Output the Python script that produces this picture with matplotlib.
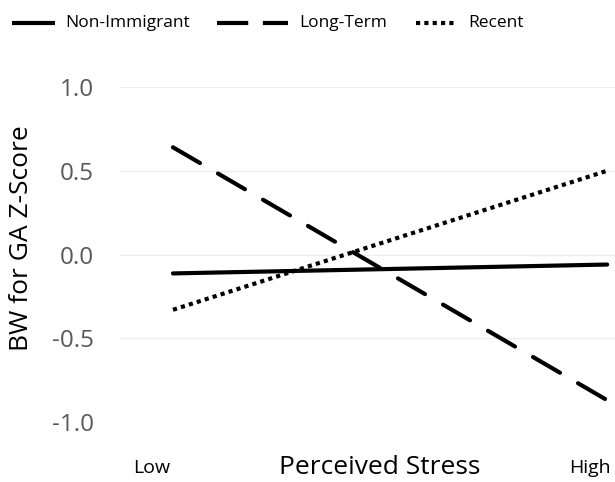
import matplotlib
matplotlib.use("Agg")
import matplotlib.pyplot as plt
from matplotlib.lines import Line2D

plt.rcParams['font.family'] = ['Open Sans', 'DejaVu Sans']

x_labels = ["Low", "High"]
x_pos = [0, 1]
non_immigrant = [-0.113, -0.06]
long_term = [0.64, -0.87]
recent = [-0.33, 0.50]
series_names = ["Non-Immigrant", "Long-Term", "Recent"]
y_ticks = [-1.0, -0.5, 0.0, 0.5, 1.0]

W, H = 615, 482
fig = plt.figure(figsize=(W / 100, H / 100), dpi=100)
ax = fig.add_axes([120 / W, (H - 422) / H, (615 - 120) / W, (422 - 87) / H])

lw = 3.0
dash_lt = (7.5, 5)
dot_rc = (1, 1)
l1, = ax.plot(x_pos, non_immigrant, color='black', lw=lw, solid_capstyle='round')
l2, = ax.plot(x_pos, long_term, color='black', lw=lw, dashes=dash_lt, dash_capstyle='round')
l3, = ax.plot(x_pos, recent, color='black', lw=lw, dashes=dot_rc, dash_capstyle='butt')
for l in (l1, l2, l3):
    l.set_clip_on(False)

ax.set_xlim(-0.122, 1.018)
ax.set_ylim(-1.0, 1.0)
ax.set_yticks(y_ticks)
ax.set_yticklabels([f"{v:.1f}" for v in y_ticks])
ax.set_xticks([])
ax.tick_params(axis='y', length=0, labelsize=17.5, labelcolor='#595959', pad=19)
ax.grid(axis='y', color='#eeeeee', lw=1)
ax.set_axisbelow(True)
for s in ax.spines.values():
    s.set_visible(False)

fig.text(22 / W, 1 - 238 / H, "BW for GA Z-Score", ha='center', va='center',
         rotation=90, fontsize=19)

fig.text(152 / W, 1 - 468 / H, x_labels[0], ha='center', va='center', fontsize=14)
fig.text(590 / W, 1 - 468 / H, x_labels[1], ha='center', va='center', fontsize=14)
fig.text(380 / W, 1 - 468 / H, "Perceived Stress", ha='center', va='center', fontsize=19)

# legend drawn manually in figure pixels
ly = 1 - 23 / H
handles = [
    ((12, 55), {}),
    ((217, 288), {'dashes': (7.5, 3.5)}),
    ((416, 457), {'dashes': dot_rc}),
]
text_x = [65, 299, 468]
for (x0, x1), kw in handles:
    fig.add_artist(Line2D([x0 / W, x1 / W], [ly, ly], color='black', lw=lw,
                          transform=fig.transFigure, solid_capstyle='butt',
                          dash_capstyle='butt', **kw))
for tx, name in zip(text_x, series_names):
    fig.text(tx / W, ly, name, ha='left', va='center', fontsize=12.5)

fig.savefig("out.png", dpi=100)
